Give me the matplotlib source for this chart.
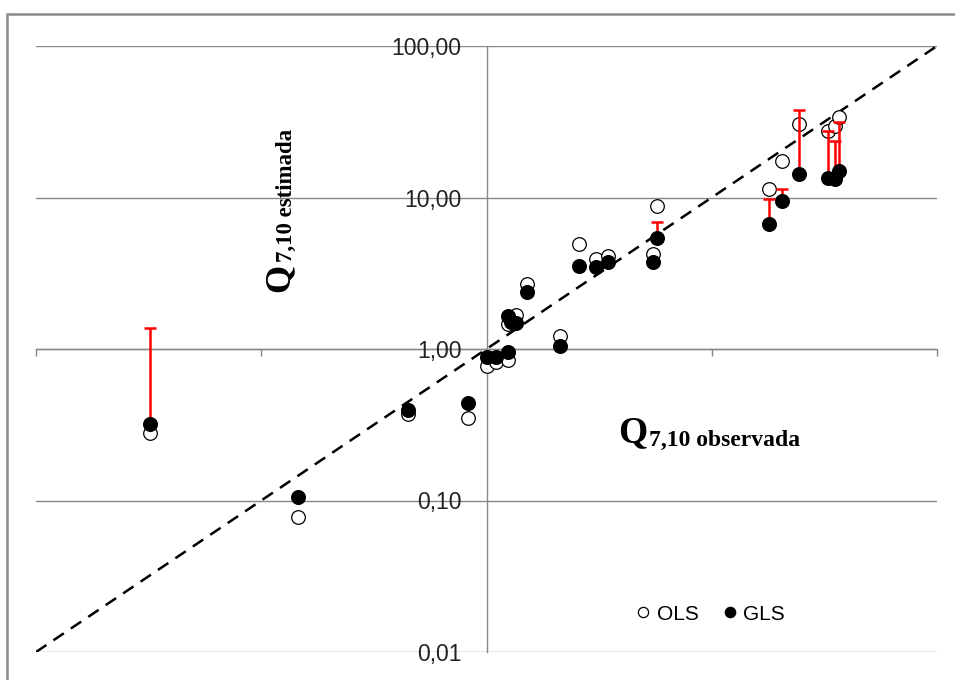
import numpy as np
import matplotlib
matplotlib.use('Agg')
import matplotlib.pyplot as plt
from matplotlib.ticker import FuncFormatter, FixedLocator, NullLocator
from matplotlib.patches import Rectangle

# Q7,10 observed vs. estimated (OLS and GLS regressions)
q_obs = [0.032, 0.146, 0.448, 0.831, 1.01, 1.10, 1.25, 1.24, 1.28, 1.35, 1.52, 2.11,
         2.57, 3.07, 3.48, 5.47, 5.70, 17.9, 20.5, 24.4, 32.7, 35.4, 36.9]
q_ols = [0.281, 0.078, 0.371, 0.35, 0.77, 0.82, 0.84, 1.46, 1.63, 1.68, 2.69, 1.22,
         4.93, 3.93, 4.13, 4.24, 8.83, 11.4, 17.5, 30.5, 27.6, 29.6, 34.0]
q_gls = [0.321, 0.105, 0.396, 0.44, 0.88, 0.88, 0.96, 1.65, 1.51, 1.48, 2.37, 1.05,
         3.55, 3.46, 3.73, 3.73, 5.38, 6.68, 9.53, 14.3, 13.4, 13.3, 15.0]
# upper limit of the GLS estimate (nan = no bar)
nan = np.nan
q_sup = [1.38, nan, nan, nan, nan, nan, nan, nan, nan, nan, nan, nan,
         nan, nan, nan, nan, 6.86, 9.78, 11.4, 37.8, 27.6, 23.7, 31.4]

lim = [0.01, 100]
ticks = [0.01, 0.1, 1, 10, 100]

W, H = 955, 680
fig = plt.figure(figsize=(W / 100, H / 100), dpi=100)
ax = fig.add_axes([36 / W, 28 / H, 901 / W, 606 / H])
ax.set_xscale('log')
ax.set_yscale('log')
ax.set_xlim(lim)
ax.set_ylim(lim)

grey = '#878787'

# horizontal grid
for t in ticks:
    ax.axhline(t, color=grey, lw=1.0, zorder=0)

# axes crossing at (1, 1)
ax.spines['top'].set_visible(False)
ax.spines['right'].set_visible(False)
ax.spines['left'].set_position(('data', 1))
ax.spines['bottom'].set_position(('data', 1))
for s in ['left', 'bottom']:
    ax.spines[s].set_color(grey)
    ax.spines[s].set_linewidth(1.0)
    ax.spines[s].set_zorder(0)

ax.xaxis.set_major_locator(FixedLocator(ticks))
ax.xaxis.set_minor_locator(NullLocator())
ax.yaxis.set_major_locator(FixedLocator(ticks))
ax.yaxis.set_minor_locator(NullLocator())
ax.tick_params(axis='x', direction='out', length=5, width=1, color=grey, labelbottom=False)
ax.tick_params(axis='y', length=0, pad=18, labelsize=16.5, labelcolor='#222222')
ax.yaxis.set_major_formatter(FuncFormatter(lambda v, p: f'{v:.2f}'.replace('.', ',')))
for lab in ax.get_yticklabels():
    lab.set_fontfamily('Liberation Sans')

# 1:1 line
ax.plot(lim, lim, color='black', lw=1.8, ls=(0, (5, 3.4)), zorder=1)

ax.plot(q_obs, q_ols, 'o', ms=9.8, mfc='white', mec='black', mew=0.9, zorder=2, label='OLS')

sup = np.array(q_sup)
gls = np.array(q_gls)
obs = np.array(q_obs)
m = ~np.isnan(sup)
ax.errorbar(obs[m], gls[m], yerr=[np.zeros(m.sum()), sup[m] - gls[m]], fmt='none',
            ecolor='#ff0000', elinewidth=1.8, capsize=4, capthick=1.8, zorder=3)

ax.plot(q_obs, q_gls, 'o', ms=9.8, mfc='black', mec='black', zorder=4, label='GLS')

ax.legend(loc='center', bbox_to_anchor=(711 / W, 1 - 614 / H), bbox_transform=fig.transFigure,
          ncol=2, frameon=False, markerscale=0.75, handlelength=0.6, handletextpad=0.35,
          columnspacing=1.2, prop={'family': 'Liberation Sans', 'size': 15})

# axis titles
serif = 'Liberation Serif'
fig.text(618 / W, 1 - 442 / H, 'Q', family=serif, weight='bold', size=27, ha='left', va='baseline')
fig.text(649 / W, 1 - 446 / H, '7,10 observada', family=serif, weight='bold', size=17,
         ha='left', va='baseline')
fig.text(288 / W, 1 - 292 / H, 'Q', family=serif, weight='bold', size=26, rotation=90,
         rotation_mode='anchor', ha='left', va='baseline')
fig.text(292 / W, 1 - 262 / H, '7,10 estimada', family=serif, weight='bold', size=16.5,
         rotation=90, rotation_mode='anchor', ha='left', va='baseline')

# chart frame
fig.patches.append(Rectangle((7 / W, -0.2), 1.2, 1.2 - 14 / H, transform=fig.transFigure,
                             fill=False, ec='#8a8a8a', lw=1.8))

fig.savefig('out.png', dpi=100)
